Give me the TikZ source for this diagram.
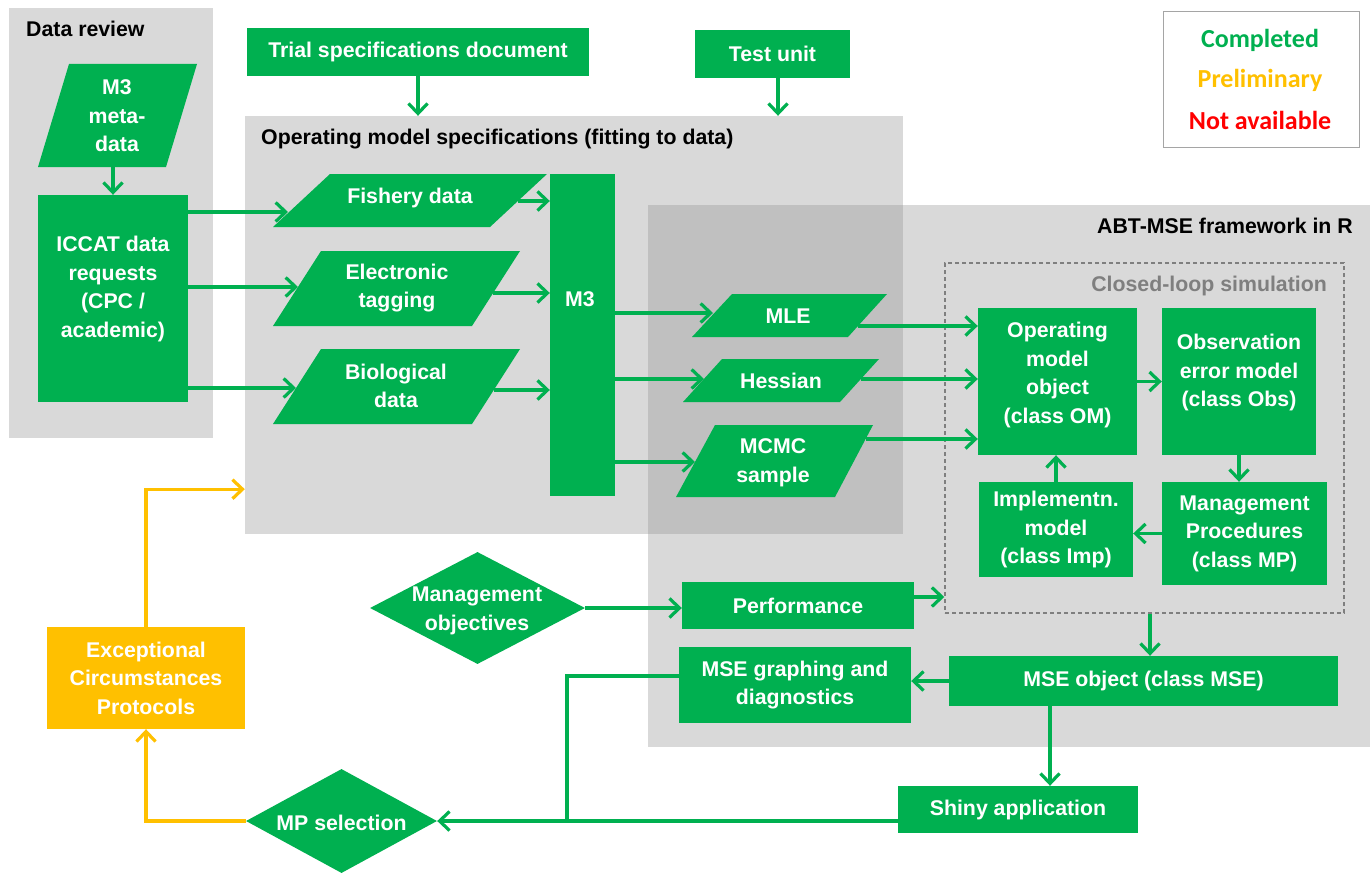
\documentclass[tikz,border=0pt]{standalone}
\usepackage{fontspec}
\setmainfont{Liberation Sans}
\newfontfamily\legendfont{Carlito}
\usetikzlibrary{arrows.meta,shapes.geometric}
\definecolor{G}{HTML}{00B050}
\definecolor{Y}{HTML}{FFC000}
\definecolor{R}{HTML}{FF0000}
\definecolor{BG}{HTML}{D9D9D9}
\definecolor{OV}{HTML}{C0C0C0}
\definecolor{DG}{HTML}{7F7F7F}
\newcommand\tf{\bfseries\fontsize{21.3}{28.5}\selectfont}
\newcommand\lf{\legendfont\bfseries\fontsize{26}{30}\selectfont}
\tikzset{
  gbox/.style={fill=G, text=white, font=\tf, align=center, inner sep=0pt},
  txt/.style={text=white, font=\tf, align=center, inner sep=0pt},
  bg/.style={fill=BG, inner sep=0pt},
  ttl/.style={font=\tf, text=black, inner sep=0pt},
  arr/.style={draw=G, line width=3.2pt, -{Straight Barb[length=10pt,width=19pt]}},
  yarr/.style={draw=Y, line width=3.2pt, -{Straight Barb[length=10pt,width=19pt]}},
  gline/.style={draw=G, line width=3.2pt},
  diam/.style={diamond, fill=G, inner sep=0pt},
  legtxt/.style={font=\lf, inner sep=0pt}
}
\begin{document}
\begin{tikzpicture}[x=1pt,y=-1pt]
\useasboundingbox (0,0) rectangle (1372,872);
\fill[white] (0,0) rectangle (1372,872);

% background panels
\node[bg, minimum width=204pt, minimum height=430pt] (drbox) at (111,223) {};
\node[ttl, anchor=base west] (drtitle) at (26,37) {Data review};
\node[bg, minimum width=658pt, minimum height=418pt] (omspec) at (574,325) {};
\node[bg, minimum width=722pt, minimum height=542pt] (abt) at (1009,476) {};
\fill[OV] (648,205) rectangle (903,534);
\node[ttl, anchor=base west] (omtitle) at (261,144) {Operating model specifications (fitting to data)};
\node[ttl, anchor=base east] (abttitle) at (1353,233) {ABT-MSE framework in R};

% closed loop
\node[draw=DG, dash pattern=on 4pt off 3pt, line width=1.5pt, inner sep=0pt,
      minimum width=399pt, minimum height=350pt] (loop) at (1144.5,438) {};
\node[font=\tf, text=DG, inner sep=0pt, anchor=base east] (looptitle) at (1327,291) {Closed-loop simulation};

% legend
\node[draw=DG!70, line width=1pt, minimum width=196pt, minimum height=135pt, inner sep=0pt] (legend) at (1261,79.5) {};
\node[legtxt, text=G] (lcomp) at (1260,40) {Completed};
\node[legtxt, text=Y] (lprel) at (1260,80) {Preliminary};
\node[legtxt, text=R] (lna) at (1260,120) {Not available};

% top boxes
\node[gbox, minimum width=342pt, minimum height=48pt] (trial) at (418,52) {Trial specifications document};
\node[gbox, minimum width=155pt, minimum height=48pt] (testunit) at (772.5,54) {Test unit};
\draw[arr] (trial.south) -- (trial.south |- omspec.north);
\draw[arr] ([xshift=5.5pt]testunit.south) -- ([xshift=5.5pt]testunit.south |- omspec.north);

% data review
\fill[G] (69,64) -- (197,64) -- (166,167) -- (38,167) -- cycle;
\node[txt] (m3meta) at (117,116) {M3\\meta-\\data};
\coordinate (m3mb) at (113,167);
\node[gbox, minimum width=150pt, minimum height=207pt] (iccat) at (113,298.5) {};
\node[txt] (iccatt) at (113,289) {ICCAT data\\requests\\(CPC /\\academic)};
\draw[arr] (m3mb) -- (iccat.north);

% data parallelograms
\fill[G] (330,174) -- (547,174) -- (490,227) -- (273,227) -- cycle;
\node[txt] (fish) at (410,197.5) {Fishery data};
\fill[G] (321,251) -- (520,251) -- (472,326) -- (273,326) -- cycle;
\node[txt] (etag) at (397,288) {Electronic\\tagging};
\fill[G] (321,349) -- (520,349) -- (472,424) -- (273,424) -- cycle;
\node[txt] (bio) at (396,386) {Biological\\data};
\coordinate (fishin) at (288,212);
\coordinate (etagin) at (298,287);
\coordinate (bioin) at (296,388);
\coordinate (fishout) at (518,201);
\coordinate (etagout) at (493,293);
\coordinate (bioout) at (494,390);
\draw[arr] (iccat.east |- fishin) -- (fishin);
\draw[arr] (iccat.east |- etagin) -- (etagin);
\draw[arr] (iccat.east |- bioin) -- (bioin);

% M3
\node[gbox, minimum width=65pt, minimum height=322pt] (m3) at (582.5,335) {};
\node[txt] (m3t) at (580,299) {M3};
\draw[arr] (fishout) -- (fishout -| m3.west);
\draw[arr] (etagout) -- (etagout -| m3.west);
\draw[arr] (bioout) -- (bioout -| m3.west);

% fit outputs
\fill[G] (732,294) -- (887,294) -- (848,337) -- (692,337) -- cycle;
\node[txt] (mle) at (788,316) {MLE};
\fill[G] (722,359) -- (879,359) -- (840,402) -- (683,402) -- cycle;
\node[txt] (hess) at (781,381) {Hessian};
\fill[G] (715,425) -- (873,425) -- (835,497) -- (676,497) -- cycle;
\node[txt] (mcmc) at (773,463) {MCMC\\sample};
\coordinate (mlein) at (713,313);
\coordinate (hessin) at (704,379);
\coordinate (mcmcin) at (695,462);
\coordinate (mleout) at (858,326);
\coordinate (hessout) at (861,379);
\coordinate (mcmcout) at (866,439);
\draw[arr] (m3.east |- mlein) -- (mlein);
\draw[arr] (m3.east |- hessin) -- (hessin);
\draw[arr] (m3.east |- mcmcin) -- (mcmcin);

% closed loop boxes
\node[gbox, minimum width=159pt, minimum height=147pt] (om) at (1057.5,381.5) {};
\node[txt] (omt) at (1057.5,375) {Operating\\model\\object\\(class OM)};
\node[gbox, minimum width=154pt, minimum height=147pt] (obs) at (1239,381.5) {};
\node[txt] (obst) at (1239,372.5) {Observation\\error model\\(class Obs)};
\node[gbox, minimum width=154pt, minimum height=95pt] (imp) at (1056,529.5) {Implementn.\\model\\(class Imp)};
\node[gbox, minimum width=165pt, minimum height=103pt] (mp) at (1244.5,533.5) {Management\\Procedures\\(class MP)};
\draw[arr] (mleout) -- (mleout -| om.west);
\draw[arr] (hessout) -- (hessout -| om.west);
\draw[arr] (mcmcout) -- (mcmcout -| om.west);
\draw[arr] (om.east) -- (obs.west);
\draw[arr] (obs.south) -- (obs.south |- mp.north);
\draw[arr] (mp.west) -- (mp.west -| imp.east);
\draw[arr] (imp.north) -- (imp.north |- om.south);

% lower part
\node[diam, minimum width=215pt, minimum height=112pt] (mobj) at (477.5,608) {};
\node[txt] (mobjt) at (477,611) {Management\\objectives};
\node[gbox, minimum width=232pt, minimum height=47pt] (perf) at (798,605.5) {Performance};
\draw[arr] (mobj.east) -- (mobj.east -| perf.west);
\draw[arr] ([yshift=8.5pt]perf.east) -- ([yshift=8.5pt]perf.east -| loop.west);

\node[gbox, minimum width=389pt, minimum height=50pt] (mseobj) at (1143.5,681) {MSE object (class MSE)};
\draw[arr] ([xshift=5.5pt]loop.south) -- ([xshift=5.5pt]loop.south |- mseobj.north);
\node[gbox, minimum width=232pt, minimum height=76pt] (graph) at (795,685) {MSE graphing and\\diagnostics};
\draw[arr] (mseobj.west) -- (mseobj.west -| graph.east);
\node[gbox, minimum width=240pt, minimum height=47pt] (shiny) at (1018,809.5) {Shiny application};
\draw[arr] ([xshift=-93.5pt]mseobj.south) -- ([xshift=-93.5pt]mseobj.south |- shiny.north);

\node[diam, minimum width=191pt, minimum height=104pt] (mpsel) at (341.5,821) {};
\node[txt] (mpselt) at (341.5,823) {MP selection};
\draw[arr] (mpsel.east -| shiny.west) -- (mpsel.east);
\coordinate (join) at (567,821);
\draw[gline] ([yshift=9pt]graph.west) -| (join);

\node[fill=Y, text=white, font=\tf, align=center, inner sep=0pt, minimum width=198pt, minimum height=102pt] (ecp) at (146,678) {Exceptional\\Circumstances\\Protocols};
\draw[yarr] (mpsel.west) -| (ecp.south);
\draw[yarr] (ecp.north) |- ([yshift=45pt]omspec.south west);
\end{tikzpicture}
\end{document}
